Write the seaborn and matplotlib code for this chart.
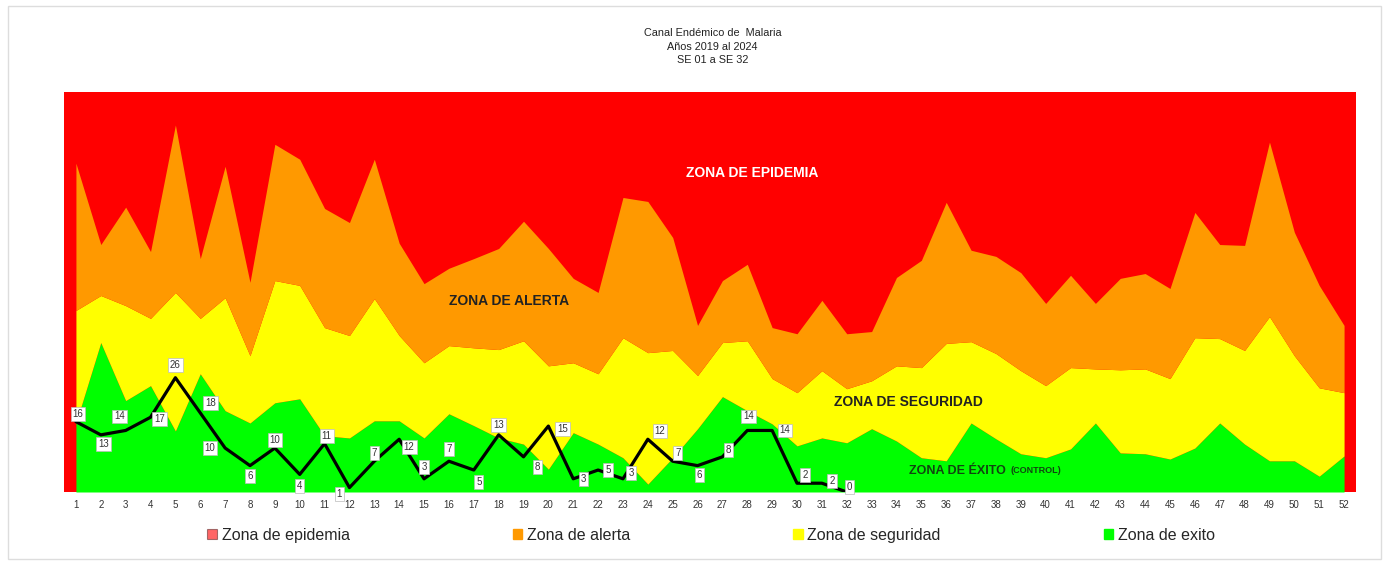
import matplotlib
matplotlib.use("Agg")
import matplotlib.pyplot as plt
import matplotlib.patches as mpatches
import seaborn as sns
import pandas as pd

# semanas epidemiologicas
semanas = list(range(1, 53))

# limite superior de cada zona (casos)
exito = [15.7, 34.0, 20.8, 24.2, 13.9, 26.9, 18.5, 15.7, 20.3, 21.2,
         12.8, 12.3, 16.2, 16.2, 12.3, 17.8, 15.1, 12.3, 10.9, 5.2,
         13.5, 10.9, 7.8, 1.8, 7.8, 14.4, 21.7, 18.5, 15.5, 10.5,
         12.3, 11.2, 14.4, 11.6, 7.8, 7.1, 15.7, 12.1, 8.7, 7.8,
         9.8, 15.7, 8.9, 8.7, 7.5, 10.0, 15.7, 10.9, 7.1, 7.1,
         3.6, 8.2]
seguridad = [41.3, 44.7, 42.4, 39.5, 45.4, 39.5, 44.2, 31.0, 48.1, 47.0,
             37.4, 35.6, 44.0, 35.6, 29.4, 33.3, 32.8, 32.4, 34.4, 28.7,
             29.4, 26.9, 35.1, 31.7, 32.2, 26.5, 34.0, 34.4, 25.8, 22.6,
             27.6, 23.5, 25.3, 28.7, 28.3, 33.8, 34.2, 31.5, 27.6, 24.2,
             28.3, 28.0, 27.8, 28.0, 25.8, 35.1, 34.9, 32.2, 39.9, 31.0,
             23.7, 22.6]
alerta = [74.8, 56.3, 64.8, 54.7, 83.5, 53.1, 74.1, 47.7, 79.1, 75.7,
          64.5, 61.3, 75.7, 56.6, 47.4, 50.9, 53.1, 55.4, 61.6, 55.4,
          48.6, 45.4, 67.0, 66.1, 57.9, 37.9, 48.1, 51.8, 37.4, 36.0,
          43.6, 36.0, 36.5, 48.8, 52.7, 65.9, 55.0, 53.6, 49.9, 42.9,
          49.3, 42.9, 48.6, 49.7, 46.3, 63.6, 56.3, 56.1, 79.6, 59.1,
          47.0, 37.9]

# casos 2024, SE 01 a SE 32
casos = [16, 13, 14, 17, 26, 18, 10, 6, 10, 4, 11, 1, 7, 12, 3, 7,
         5, 13, 8, 15, 3, 5, 3, 12, 7, 6, 8, 14, 14, 2, 2, 0]

# desplazamiento de cada etiqueta (pixeles)
desp = [(2, 8), (3, -9), (-6, 14), (9, -2), (0, 13), (10, 10), (-15, 0), (0, -10),
        (0, 8), (0, -12), (2, 8), (-10, -6), (0, 8), (10, -8), (0, 12), (0, 12),
        (5, -12), (0, 10), (14, -10), (14, -3), (10, 0), (10, 0), (8, 6), (12, 8),
        (5, 8), (2, -9), (6, 7), (1, 14), (13, 0), (8, 8), (10, 2), (3, 5)]

sns.set_theme(style="white")
plt.rcParams['font.family'] = ['Liberation Sans', 'DejaVu Sans']

fig = plt.figure(figsize=(13.89, 5.65), dpi=100)
ax = fig.add_axes([64 / 1389, 73 / 565, 1292 / 1389, 400 / 565])

rojo, naranja, amarillo, verde = "#FF0000", "#FF9900", "#FFFF00", "#00FF00"
ax.set_facecolor(rojo)
ax.fill_between(semanas, 0, exito, color=verde, lw=0)
ax.fill_between(semanas, exito, seguridad, color=amarillo, lw=0)
ax.fill_between(semanas, seguridad, alerta, color=naranja, lw=0)

df = pd.DataFrame({"semana": semanas[:len(casos)], "casos": casos})
sns.lineplot(data=df, x="semana", y="casos", color="black", lw=2.3, ax=ax)

for (s, c), (dx, dy) in zip(zip(df.semana, df.casos), desp):
    ax.annotate(str(c), (s, c), xytext=(dx, dy), textcoords="offset pixels",
                ha="center", va="center", fontsize=7, color="#333333",
                bbox=dict(boxstyle="square,pad=0.2", fc="white", ec="#bbbbbb", lw=0.5))

ax.set_xlim(0.52, 52.48)
ax.set_ylim(0, 91)
ax.set_xticks(semanas)
ax.set_xticklabels([str(s) for s in semanas], fontsize=7, color="#333333")
ax.set_yticks([])
ax.tick_params(axis="x", length=0, pad=6)
ax.set_xlabel("")
ax.set_ylabel("")
for sp in ax.spines.values():
    sp.set_visible(False)

ax.text(28.2, 72.5, "ZONA DE EPIDEMIA", color="white", fontsize=10, fontweight="bold", ha="center", va="center")
ax.text(18.4, 43.5, "ZONA DE ALERTA", color="#222222", fontsize=10, fontweight="bold", ha="center", va="center")
ax.text(34.5, 20.5, "ZONA DE SEGURIDAD", color="#222222", fontsize=10, fontweight="bold", ha="center", va="center")
ax.text(38.4, 4.8, "ZONA DE ÉXITO", color="#114411", fontsize=9, fontweight="bold", ha="right", va="center")
ax.text(38.6, 4.8, "(CONTROL)", color="#114411", fontsize=6.5, fontweight="bold", ha="left", va="center")

fig.text(0.513, 0.917, "Canal Endémico de  Malaria\nAños 2019 al 2024\nSE 01 a SE 32",
         ha="center", va="center", fontsize=7.8, linespacing=1.45, color="#222222")

handles = [mpatches.Patch(fc=rojo, ec="#663333", lw=0.8, alpha=0.6),
           mpatches.Patch(color=naranja),
           mpatches.Patch(color=amarillo),
           mpatches.Patch(color=verde)]
fig.legend(handles, ["Zona de epidemia", "Zona de alerta", "Zona de seguridad", "Zona de exito"],
           loc="center", bbox_to_anchor=(0.512, 0.053), ncol=4, frameon=False, fontsize=11.5,
           handlelength=0.6, handleheight=0.6, handletextpad=0.3, columnspacing=10.2)

fig.patches.append(mpatches.Rectangle((0.006, 0.01), 0.988, 0.98, transform=fig.transFigure,
                                      fill=False, ec="#dddddd", lw=1))

fig.savefig("out.png", dpi=100)
